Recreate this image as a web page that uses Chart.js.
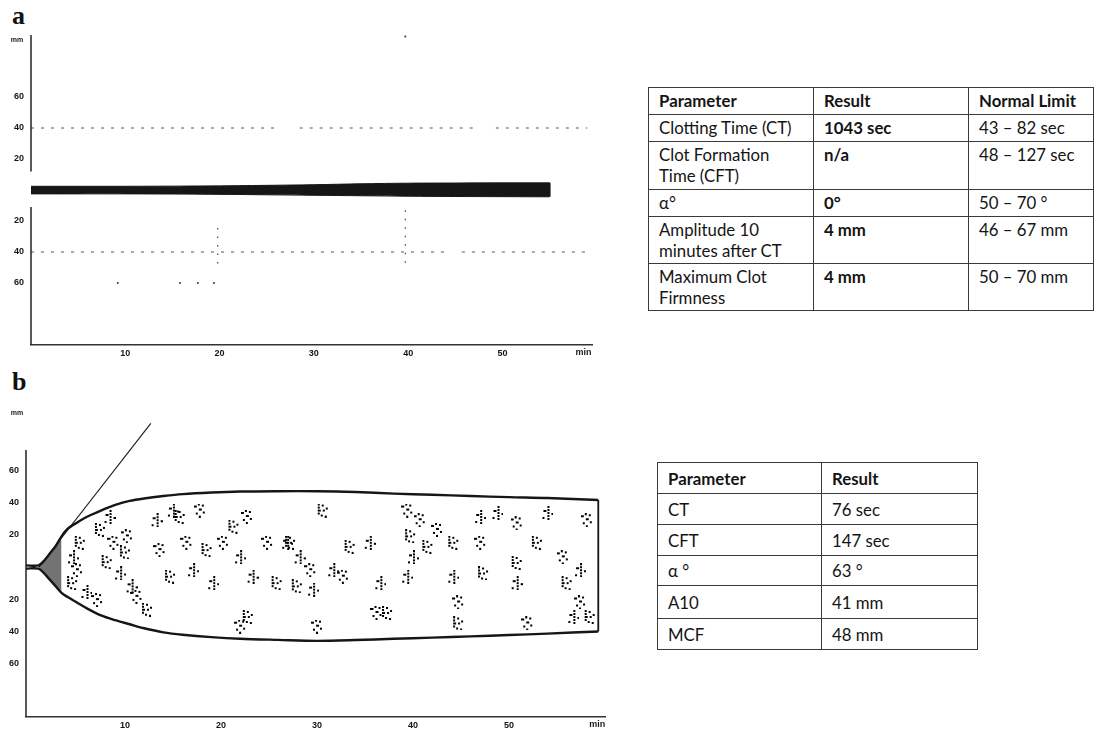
<!DOCTYPE html>
<html>
<head>
<meta charset="utf-8">
<script src="https://cdn.jsdelivr.net/npm/chart.js@4.4.1/dist/chart.umd.min.js"></script>
<style>
  html, body { margin: 0; padding: 0; background: #fff; }
  #page { position: relative; width: 1107px; height: 736px; overflow: hidden; }
  canvas { position: absolute; left: 0; }
  .panel { position: absolute; left: 12px; font: bold 26px "Liberation Serif", serif; color: #111; line-height: 26px; }
  table { position: absolute; border-collapse: collapse; table-layout: fixed; font: 16.8px Lato, sans-serif; color: #141414; }
  td { border: 1px solid #3a3a3a; padding: 2px 6px 0 10px; vertical-align: top; line-height: 21px; white-space: pre-line; overflow: hidden; }
  td.b { font-weight: bold; }
  #tableB td { vertical-align: middle; padding-top: 0; padding-left: 10px; }
</style>
</head>
<body>
<div id="page">
  <div class="panel" style="top:3px">a</div>
  <canvas id="chartA" width="600" height="362" style="top:0"></canvas>
  <table id="tableA" style="left:648px; top:87px; width:446px"></table>

  <div class="panel" style="top:369px">b</div>
  <canvas id="chartB" width="612" height="366" style="top:370px"></canvas>
  <table id="tableB" style="left:657px; top:462px; width:321px"></table>
</div>
<script>
// ---------- shared axes ----------
const yTickValues = [60, 40, 20, -20, -40, -60];
const xTickValues = [10, 20, 30, 40, 50];

// ---------- panel a : flat trace ----------
const bandTimeA  = [0, 5, 10, 15, 18, 22, 25, 30, 35, 40, 45, 50, 55];
const bandUpperA = [2.4, 2.4, 2.4, 2.5, 2.6, 2.8, 3.0, 3.4, 4.0, 4.4, 4.5, 4.6, 4.6];
const bandLowerA = [-2.5, -2.5, -2.5, -2.6, -2.7, -2.9, -3.1, -3.4, -3.7, -4.0, -4.2, -4.3, -4.4];
// dashed 40 mm reference lines (start/end minutes of each piece)
const refLevelA = 40;
const refUpperPiecesA = [[0, 26], [28.5, 47.3], [49.3, 59]];
const refLowerPiecesA = [[0, 44.5], [45.7, 59]];
// printer dots
const dotLinesA = [[19.8, -24.5, -48], [39.7, -13, -48]];
const dotTimeA = [39.7, 9.2, 15.8, 17.7, 19.4];
const dotMmA   = [99, -60, -60, -60, -60];

// ---------- panel b : normal trace ----------
const envTimeB  = [-0.3, 1.0, 1.6, 2.2, 2.8, 3.4, 4.0, 5.0, 6.0, 7.5, 9.0, 10.5, 12, 14, 16, 19, 22, 26, 30, 34, 38, 42, 46, 50, 54, 59.3];
const envUpperB = [1.0, 1.0, 4, 8.5, 13, 19, 23.5, 27.5, 31, 35, 38.5, 41, 42.5, 44, 45.2, 46.2, 46.8, 47, 47, 46.5, 45.5, 44.8, 44, 43.3, 42.8, 41.5];
const envLowerB = [-1.0, -1.0, -4, -8, -12, -16, -18.5, -22, -25.5, -30, -33, -35.5, -38, -40.5, -42, -43.5, -44.5, -45.2, -45.8, -45.3, -44.5, -43.8, -43, -42.2, -41.3, -40];
const tangentTimeB = [1.04, 12.7];
const tangentMmB   = [0, 89];
const speckleTimeB = [5.3, 4.6, 5.0, 4.5, 6.0, 7.1, 7.4, 8.4, 8.8, 8.1, 9.5, 10.2, 10.0, 10.7, 11.2, 12.3, 13.3, 13.6, 14.7, 15.0,
  16.4, 15.7, 17.1, 17.8, 18.5, 19.2, 20.2, 21.3, 22.0, 22.7, 22.8, 23.3, 24.8, 25.8, 26.9, 22.0,
  27.2, 28.2, 29.3, 27.9, 29.6, 30.0, 30.6, 31.7, 32.7, 33.4, 35.5, 36.2, 37.3, 36.6, 39.4, 39.7, 40.0, 40.7,
  41.5, 39.4, 42.5, 44.2, 44.2, 44.7, 44.7, 47.0, 47.0, 47.3, 48.8, 50.8, 50.8, 50.8, 51.9, 52.9, 54.0, 55.6,
  56.0, 57.4, 57.4, 58.4, 56.7, 58.1];
const speckleMmB = [15, 6, -2, -10, -15.5, -20.5, 23, 31, 15, 3, -4, 19, 9, -12, -18.5, -26.5, 29, 10.5, -6, 35,
  15, 31, -2, 35, 10.5, -10, 15, 25, 6, 31, -31, -6, 15, -10, 15, -37,
  15, 6, -2, -12, -14, -37, 35, -2, -6, 12.5, 15, -28.5, -28.5, -10, 35, 19, 6, 29,
  12.5, -6, 23, 15, -6, -22, -35, 31, 15, -4, 33.5, 27, 2.5, -10, -35, 15, 33.5, 6,
  -10, -2, -22, -31, -31, 29];

// ---------- tables ----------
const headerA = ['Parameter', 'Result', 'Normal Limit'];
const paramsA = ['Clotting Time (CT)', 'Clot Formation\nTime (CFT)', 'α°', 'Amplitude 10\nminutes after CT', 'Maximum Clot\nFirmness'];
const resultsA = ['1043 sec', 'n/a', '0°', '4 mm', '4 mm'];
const limitsA = ['43 – 82 sec', '48 – 127 sec', '50 – 70 °', '46 – 67 mm', '50 – 70 mm'];
const headerB = ['Parameter', 'Result'];
const paramsB = ['CT', 'CFT', 'α °', 'A10', 'MCF'];
const resultsB = ['76 sec', '147 sec', '63 °', '41 mm', '48 mm'];

function fillTable(id, header, columns, boldCols, colWidths, rowHeights) {
  const t = document.getElementById(id);
  let html = '<colgroup>' + colWidths.map(w => `<col style="width:${w}px">`).join('') + '</colgroup>';
  html += `<tr style="height:${rowHeights[0]}px">` + header.map(h => `<td class="b">${h}</td>`).join('') + '</tr>';
  columns[0].forEach((_, r) => {
    html += `<tr style="height:${rowHeights[r + 1]}px">` +
      columns.map((c, ci) => `<td${boldCols.includes(ci) ? ' class="b"' : ''}>${c[r]}</td>`).join('') + '</tr>';
  });
  t.innerHTML = html;
}
fillTable('tableA', headerA, [paramsA, resultsA, limitsA], [1], [165, 155, 125], [27, 27, 48, 27, 47, 47]);
fillTable('tableB', headerB, [paramsB, resultsB], [], [164, 156], [31, 31, 31, 30, 33, 31]);

// ---------- chart helpers ----------
const pts = (xs, ys) => xs.map((x, i) => ({ x, y: ys[i] }));
const INK = '#161616';

// small clusters of printer dots used as point glyphs for the speckle
function makeGlyph(dots) {
  const c = document.createElement('canvas');
  c.width = 12; c.height = 14;
  const g = c.getContext('2d');
  g.fillStyle = '#000';
  dots.forEach(([px, py, w]) => g.fillRect(px, py, w || 2, 2));
  return c;
}
const speckleGlyphs = [
  makeGlyph([[1, 0], [1, 3], [1, 6, 3], [1, 9], [5, 1], [6, 6], [4, 11], [9, 4], [8, 12]]),
  makeGlyph([[6, 0], [6, 3], [6, 6], [6, 9], [6, 12], [2, 4, 3], [10, 7], [1, 11]]),
  makeGlyph([[0, 2, 3], [4, 0], [8, 1], [5, 5, 3], [2, 9], [9, 8], [5, 12]])
];

const axisExtras = {
  id: 'axisExtras',
  afterDraw(chart, args, opts) {
    const { ctx, chartArea, scales: { x, y } } = chart;
    ctx.save();
    ctx.strokeStyle = '#222';
    ctx.lineWidth = 1.5;
    opts.ySegments.forEach(([a, b]) => {
      ctx.beginPath();
      ctx.moveTo(chartArea.left, y.getPixelForValue(a));
      ctx.lineTo(chartArea.left, y.getPixelForValue(b));
      ctx.stroke();
    });
    ctx.fillStyle = '#1a1a1a';
    ctx.font = 'bold 7px "Liberation Sans", sans-serif';
    ctx.textAlign = 'center';
    ctx.textBaseline = 'middle';
    ctx.fillText('mm', 17, y.getPixelForValue(opts.mmValue));
    ctx.font = 'bold 9px "Liberation Sans", sans-serif';
    ctx.fillText('min', x.getPixelForValue(opts.minValue), chartArea.bottom + 8);
    ctx.restore();
  }
};

function baseOptions(cfg) {
  return {
    responsive: false,
    animation: false,
    events: [],
    layout: { padding: { top: cfg.padTop, right: cfg.padRight, left: 0, bottom: 0 } },
    plugins: {
      legend: { display: false },
      tooltip: { enabled: false },
      axisExtras: { ySegments: cfg.ySegments, mmValue: cfg.mmValue, minValue: cfg.minValue }
    },
    elements: { point: { radius: 0 }, line: { tension: 0.3 } },
    scales: {
      x: {
        type: 'linear', min: cfg.xMin, max: cfg.xMax,
        afterFit: s => { s.height = cfg.xHeight; },
        afterBuildTicks: s => { s.ticks = xTickValues.map(v => ({ value: v })); },
        grid: { display: false, drawTicks: false },
        border: { display: true, color: '#333', width: 1.5 },
        ticks: { color: '#151515', padding: 3, font: { family: 'Liberation Sans', size: 9, weight: 'bold' } }
      },
      y: {
        type: 'linear', min: cfg.yMin, max: cfg.yMax,
        afterFit: s => { s.width = cfg.yWidth; },
        afterBuildTicks: s => { s.ticks = yTickValues.map(v => ({ value: v })); },
        grid: { display: false, drawTicks: false },
        border: { display: false },
        ticks: { color: '#151515', padding: 7, callback: v => Math.abs(v),
          font: { family: 'Liberation Sans', size: 9, weight: 'bold' } }
      }
    }
  };
}

// ---------- chart a ----------
const dsA = [
  { data: pts(bandTimeA, bandUpperA), borderColor: INK, borderWidth: 1, backgroundColor: INK, fill: '+1' },
  { data: pts(bandTimeA, bandLowerA), borderColor: INK, borderWidth: 1, fill: false },
  { data: [{ x: 55, y: bandUpperA[bandUpperA.length - 1] }, { x: 55, y: bandLowerA[bandLowerA.length - 1] }],
    borderColor: INK, borderWidth: 2, tension: 0 }
];
refUpperPiecesA.forEach(([a, b]) => dsA.push({ data: [{ x: a, y: refLevelA }, { x: b, y: refLevelA }],
  borderColor: '#555', borderWidth: 1, borderDash: [3, 7], tension: 0 }));
refLowerPiecesA.forEach(([a, b]) => dsA.push({ data: [{ x: a, y: -refLevelA }, { x: b, y: -refLevelA }],
  borderColor: '#555', borderWidth: 1, borderDash: [3, 7], tension: 0 }));
dotLinesA.forEach(([t, a, b]) => dsA.push({ data: [{ x: t, y: a }, { x: t, y: b }],
  borderColor: '#444', borderWidth: 1.2, borderDash: [1.5, 7], tension: 0 }));
dsA.push({ type: 'scatter', data: pts(dotTimeA, dotMmA), pointRadius: 1, pointBackgroundColor: '#333', pointBorderWidth: 0 });

new Chart(document.getElementById('chartA'), {
  type: 'line',
  data: { datasets: dsA },
  options: baseOptions({ xMin: 0, xMax: 59.5, yMin: -100, yMax: 100, yWidth: 31, xHeight: 17,
    padTop: 35, padRight: 8, ySegments: [[100, 12], [-11, -100]], mmValue: 97, minValue: 58.6 }),
  plugins: [axisExtras]
});

// ---------- chart b ----------
const openEnd = 6; // first six envelope points form the opening
const lastB = envTimeB.length - 1;
const dsB = [
  { data: pts(envTimeB, envUpperB), borderColor: INK, borderWidth: 2.4, fill: false },
  { data: pts(envTimeB, envLowerB), borderColor: INK, borderWidth: 2.4, fill: false },
  { data: pts(envTimeB.slice(1, openEnd), envUpperB.slice(1, openEnd)), borderWidth: 0,
    backgroundColor: 'rgba(0,0,0,0.55)', fill: '+1' },
  { data: pts(envTimeB.slice(1, openEnd), envLowerB.slice(1, openEnd)), borderWidth: 0, fill: false },
  { data: [{ x: envTimeB[lastB], y: envUpperB[lastB] }, { x: envTimeB[lastB], y: envLowerB[lastB] }],
    borderColor: INK, borderWidth: 1.8, tension: 0 },
  { data: pts(tangentTimeB, tangentMmB), borderColor: '#222', borderWidth: 1.2, tension: 0 },
  { type: 'scatter', data: pts(speckleTimeB, speckleMmB), pointRadius: 6,
    pointStyle: ctx => speckleGlyphs[ctx.dataIndex % speckleGlyphs.length] }
];

new Chart(document.getElementById('chartB'), {
  type: 'line',
  data: { datasets: dsB },
  options: baseOptions({ xMin: -0.3, xMax: 60, yMin: -93, yMax: 93, yWidth: 26, xHeight: 19,
    padTop: 47, padRight: 7, ySegments: [[72.5, -93]], mmValue: 95.5, minValue: 59.2 }),
  plugins: [axisExtras]
});
</script>
</body>
</html>
